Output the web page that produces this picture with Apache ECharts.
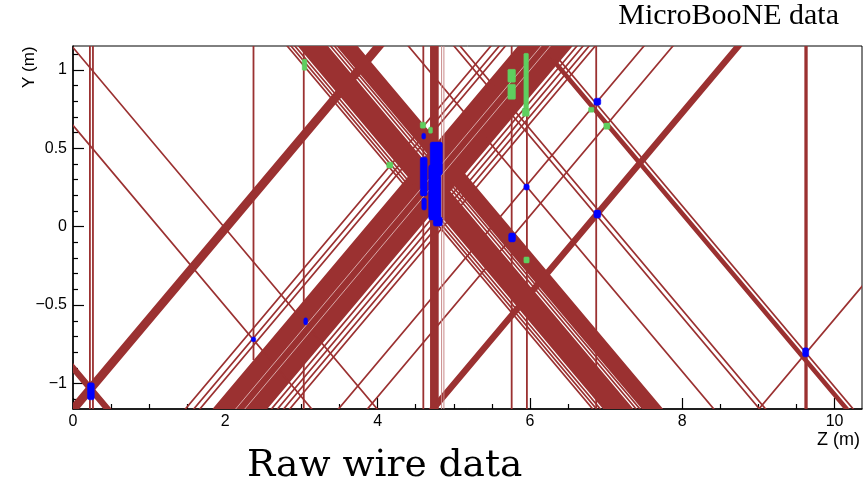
<!DOCTYPE html>
<html><head><meta charset="utf-8">
<script src="https://cdn.jsdelivr.net/npm/echarts@6/dist/echarts.min.js"></script>
<style>html,body{margin:0;padding:0;background:#fff}#c{width:863px;height:485px}</style>
</head><body><div id="c"></div>
<script>
// ---- axis ranges & ticks ----
const zRange = [0, 10.36];
const yRange = [-1.163, 1.153];
const xMajorTicks = [0, 2, 4, 6, 8, 10];
const xMinorTicks = [0.5, 1, 1.5, 2.5, 3, 3.5, 4.5, 5, 5.5, 6.5, 7, 7.5, 8.5, 9, 9.5];
const yMajorTicks = [-1, -0.5, 0, 0.5, 1];
const yMinorTicks = [-1.1, -0.9, -0.8, -0.7, -0.6, -0.4, -0.3, -0.2, -0.1, 0.1, 0.2, 0.3, 0.4, 0.6, 0.7, 0.8, 0.9, 1.1];

// ---- collection-plane wires (vertical): [zFrom, zTo, yLow, yHigh] ----
const verticalWires = [
  [0.222, 0.222, -1.163, 1.153],
  [0.262, 0.262, -1.163, 1.153],
  [2.37, 2.37, -0.85, 1.153],
  [3.03, 3.03, -1.163, 1.153],
  [4.60, 4.60, -1.163, 1.153],
  [4.70, 4.79, -1.163, 1.153],
  [5.76, 5.76, -1.163, 1.153],
  [5.96, 5.96, -1.163, 1.153],
  [6.87, 6.87, -1.163, 1.153],
  [9.615, 9.635, -1.163, 1.153]
];
const paleVerticalWires = [4.84, 4.87];

// ---- induction-plane wires, Z intercept at Y=0: [from, to] ----
const upWires = [
  [1.96, 2.08], [3.49, 3.49], [3.60, 3.60], [3.68, 3.68],
  [3.86, 4.55], [4.62, 4.62], [4.70, 4.70], [4.78, 4.78], [4.86, 4.86],
  [5.50, 5.50], [5.88, 5.88], [6.70, 6.78], [11.02, 11.02]
];
const paleUpWires = [4.15, 4.27];
const downWires = [
  [-1.60, -1.52], [1.12, 1.12], [1.98, 1.98],
  [4.81, 4.81], [4.86, 4.86], [4.91, 4.91], [4.96, 5.33],
  [5.38, 5.38], [5.43, 5.43], [5.47, 5.72],
  [6.40, 6.40], [7.00, 7.00], [7.08, 7.08], [8.12, 8.17], [8.23, 8.23]
];

// ---- hits: [zFrom, zTo, yLow, yHigh] ----
const greenHits = [
  [3.01, 3.07, 0.998, 1.068],
  [4.56, 4.63, 0.629, 0.667],
  [4.67, 4.72, 0.597, 0.635],
  [4.12, 4.20, 0.374, 0.412],
  [5.71, 5.81, 0.922, 1.004],
  [5.71, 5.81, 0.813, 0.909],
  [5.92, 5.98, 0.756, 1.106],
  [5.90, 5.99, 0.705, 0.756],
  [5.92, 5.99, -0.231, -0.193],
  [6.77, 6.84, 0.731, 0.762],
  [6.97, 7.05, 0.622, 0.661]
];
const blueHits = [
  [0.19, 0.28, -1.104, -0.996],
  [2.34, 2.40, -0.734, -0.703],
  [3.03, 3.08, -0.626, -0.581],
  [4.58, 4.63, 0.559, 0.597],
  [4.56, 4.65, 0.196, 0.444],
  [4.58, 4.64, 0.106, 0.183],
  [4.69, 4.85, 0.33, 0.54],
  [4.67, 4.83, 0.043, 0.393],
  [4.73, 4.85, 0.004, 0.062],
  [5.72, 5.81, -0.097, -0.040],
  [5.92, 5.99, 0.234, 0.272],
  [6.84, 6.93, 0.775, 0.820],
  [6.84, 6.93, 0.055, 0.106],
  [9.58, 9.66, -0.830, -0.773]
];

const RED = '#9b3131';
const PALE = '#e9c6c6';
const S3 = Math.sqrt(3);

function bandRender(sign, color, lw) {
  return function (params, api) {
    const a = api.value(0), b = api.value(1);
    const y0 = yRange[0] - 0.05, y1 = yRange[1] + 0.05;
    const pts = [[a + sign * S3 * y0, y0], [b + sign * S3 * y0, y0],
                 [b + sign * S3 * y1, y1], [a + sign * S3 * y1, y1]].map(p => api.coord(p));
    return { type: 'polygon', shape: { points: pts },
      style: { fill: color, stroke: color, lineWidth: lw } };
  };
}
function lineRender(sign, color, lw) {
  return function (params, api) {
    const a = api.value(0);
    const y0 = yRange[0] - 0.05, y1 = yRange[1] + 0.05;
    const p0 = api.coord([a + sign * S3 * y0, y0]);
    const p1 = api.coord([a + sign * S3 * y1, y1]);
    return { type: 'line', shape: { x1: p0[0], y1: p0[1], x2: p1[0], y2: p1[1] },
      style: { stroke: color, lineWidth: lw } };
  };
}
function rectRender(color, lw, r) {
  return function (params, api) {
    const p0 = api.coord([api.value(0), api.value(3)]);
    const p1 = api.coord([api.value(1), api.value(2)]);
    return { type: 'rect', shape: { x: p0[0], y: p0[1], width: p1[0] - p0[0], height: p1[1] - p0[1], r: r },
      style: { fill: color, stroke: color, lineWidth: lw } };
  };
}
function vertRender(params, api) {
  const p0 = api.coord([api.value(0), api.value(3)]);
  const p1 = api.coord([api.value(1), api.value(2)]);
  return { type: 'rect', shape: { x: p0[0], y: p0[1], width: p1[0] - p0[0], height: p1[1] - p0[1] },
    style: { fill: RED, stroke: RED, lineWidth: 1.8 } };
}

const baseSeries = { type: 'custom', coordinateSystem: 'cartesian2d', xAxisIndex: 0, yAxisIndex: 0, clip: true, silent: true, animation: false };
const fmtY = v => (v < 0 ? '\u2212' + Math.abs(v) : String(v));

const chart = echarts.init(document.getElementById('c'), null, { renderer: 'canvas' });
chart.setOption({
  backgroundColor: '#fff',
  animation: false,
  title: [
    { text: 'MicroBooNE data', right: 24, top: 1, padding: 0,
      textStyle: { fontFamily: 'Liberation Serif', fontSize: 30, fontWeight: 'normal', color: '#000' } },
    { text: 'Raw wire data', left: 247, top: 447, padding: 0,
      textStyle: { fontFamily: 'DejaVu Serif', fontSize: 37.5, fontWeight: 'normal', color: '#000' } }
  ],
  grid: { left: 73, top: 46, width: 789, height: 363, show: true, borderColor: '#000', borderWidth: 1, backgroundColor: 'transparent', containLabel: false },
  xAxis: [
    { type: 'value', min: zRange[0], max: zRange[1], position: 'bottom',
      axisLine: { show: true, onZero: false, lineStyle: { color: '#000', width: 1.5 } },
      axisTick: { show: true, inside: true, length: 11, customValues: xMajorTicks, lineStyle: { color: '#000', width: 1.2 } },
      axisLabel: { show: true, customValues: xMajorTicks, color: '#000', fontSize: 16, fontFamily: 'Liberation Sans', margin: 5 },
      splitLine: { show: false } },
    { type: 'value', min: zRange[0], max: zRange[1], position: 'bottom',
      axisLine: { show: false, onZero: false },
      axisTick: { show: true, inside: true, length: 5, customValues: xMinorTicks, lineStyle: { color: '#000', width: 1.2 } },
      axisLabel: { show: false }, splitLine: { show: false } }
  ],
  yAxis: [
    { type: 'value', min: yRange[0], max: yRange[1], position: 'left',
      axisLine: { show: true, onZero: false, lineStyle: { color: '#000', width: 1.5 } },
      axisTick: { show: true, inside: true, length: 11, customValues: yMajorTicks, lineStyle: { color: '#000', width: 1.2 } },
      axisLabel: { show: true, customValues: yMajorTicks, formatter: fmtY, color: '#000', fontSize: 16, fontFamily: 'Liberation Sans', margin: 6 },
      splitLine: { show: false } },
    { type: 'value', min: yRange[0], max: yRange[1], position: 'left',
      axisLine: { show: false, onZero: false },
      axisTick: { show: true, inside: true, length: 5, customValues: yMinorTicks, lineStyle: { color: '#000', width: 1.2 } },
      axisLabel: { show: false }, splitLine: { show: false } }
  ],
  graphic: [
    { type: 'text', right: 3, top: 431, style: { text: 'Z (m)', fontFamily: 'Liberation Sans', fontSize: 18, fill: '#000' } },
    { type: 'text', x: 21, y: 88, rotation: Math.PI / 2, style: { text: 'Y (m)', fontFamily: 'Liberation Sans', fontSize: 17, fill: '#000' } }
  ],
  series: [
    Object.assign({}, baseSeries, { name: 'vertical', data: verticalWires, renderItem: vertRender, z: 2 }),
    Object.assign({}, baseSeries, { name: 'up', data: upWires, renderItem: bandRender(1, RED, 1.7), z: 2 }),
    Object.assign({}, baseSeries, { name: 'down', data: downWires, renderItem: bandRender(-1, RED, 1.7), z: 2 }),
    Object.assign({}, baseSeries, { name: 'paleUp', data: paleUpWires.map(v => [v]), renderItem: lineRender(1, PALE, 0.8), z: 3 }),
    Object.assign({}, baseSeries, { name: 'paleVert', data: paleVerticalWires.map(v => [v, v, yRange[0], yRange[1]]),
      renderItem: function (params, api) {
        const p0 = api.coord([api.value(0), api.value(3)]);
        const p1 = api.coord([api.value(0), api.value(2)]);
        return { type: 'line', shape: { x1: p0[0], y1: p0[1], x2: p1[0], y2: p1[1] }, style: { stroke: '#c98a8a', lineWidth: 1 } };
      }, z: 3 }),
    Object.assign({}, baseSeries, { name: 'green', data: greenHits, renderItem: rectRender('#5fcf5f', 0.5, 1), z: 4 }),
    Object.assign({}, baseSeries, { name: 'blue', data: blueHits, renderItem: rectRender('#0000ff', 0.5, 2), z: 5 })
  ]
});
</script></body></html>
